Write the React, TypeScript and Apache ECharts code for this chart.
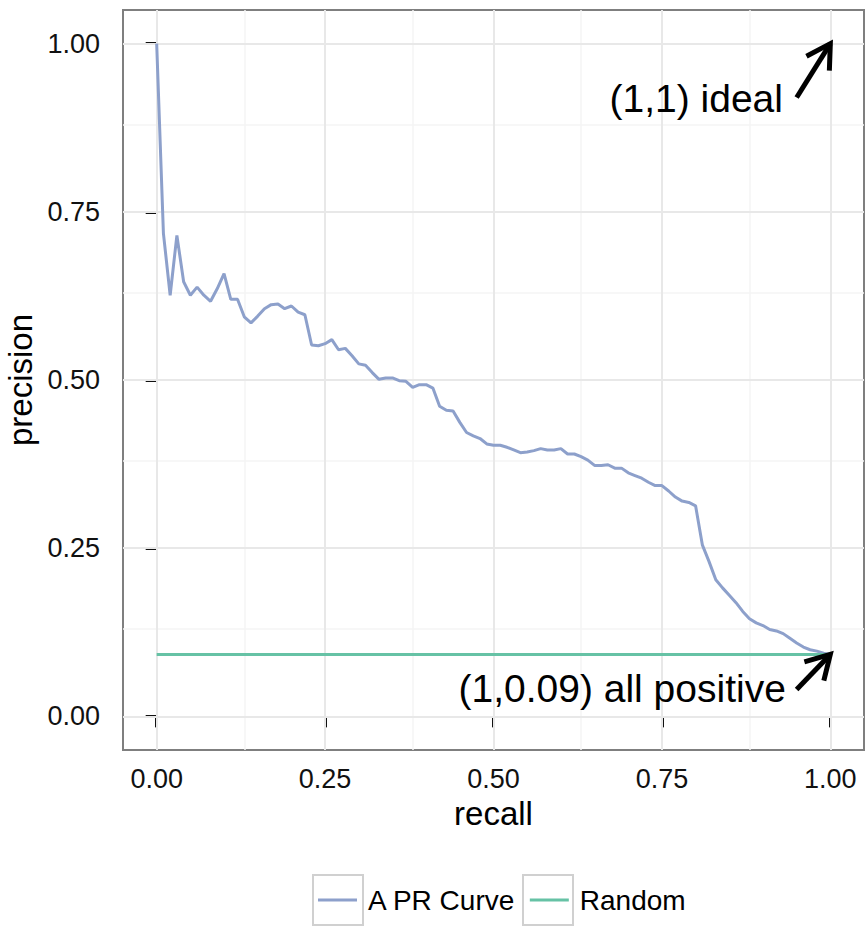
import React, { useEffect, useRef } from "react";
import * as echarts from "echarts";

const recall = [
  0.0, 0.01, 0.02, 0.03, 0.04, 0.05, 0.06, 0.07, 0.08, 0.09,
  0.1, 0.11, 0.12, 0.13, 0.14, 0.15, 0.16, 0.17, 0.18, 0.19,
  0.2, 0.21, 0.22, 0.23, 0.24, 0.25, 0.26, 0.27, 0.28, 0.29,
  0.3, 0.31, 0.32, 0.33, 0.34, 0.35, 0.36, 0.37, 0.38, 0.39,
  0.4, 0.41, 0.42, 0.43, 0.44, 0.45, 0.46, 0.47, 0.48, 0.49,
  0.5, 0.51, 0.52, 0.53, 0.54, 0.55, 0.56, 0.57, 0.58, 0.59,
  0.6, 0.61, 0.62, 0.63, 0.64, 0.65, 0.66, 0.67, 0.68, 0.69,
  0.7, 0.71, 0.72, 0.73, 0.74, 0.75, 0.76, 0.77, 0.78, 0.79,
  0.8, 0.81, 0.82, 0.83, 0.84, 0.85, 0.86, 0.87, 0.88, 0.89,
  0.9, 0.91, 0.92, 0.93, 0.94, 0.95, 0.96, 0.97, 0.98, 0.99, 1.0,
];

const precision = [
  1.0, 0.718, 0.626, 0.715, 0.646, 0.626, 0.638, 0.626, 0.617, 0.636,
  0.658, 0.62, 0.62, 0.594, 0.585, 0.595, 0.606, 0.612, 0.613, 0.606,
  0.61, 0.601, 0.597, 0.552, 0.551, 0.554, 0.56, 0.545, 0.547, 0.536,
  0.524, 0.522, 0.511, 0.501, 0.503, 0.503, 0.499, 0.498, 0.489, 0.493,
  0.493, 0.488, 0.461, 0.455, 0.454, 0.437, 0.422, 0.417, 0.413, 0.405,
  0.403, 0.403, 0.4, 0.396, 0.392, 0.393, 0.395, 0.398, 0.396, 0.396,
  0.398, 0.39, 0.39, 0.386, 0.381, 0.373, 0.373, 0.374, 0.369, 0.369,
  0.362, 0.358, 0.354, 0.348, 0.343, 0.343, 0.335, 0.326, 0.32, 0.318,
  0.313, 0.255, 0.23, 0.203, 0.191, 0.18, 0.169, 0.156, 0.145, 0.139,
  0.135, 0.129, 0.127, 0.123, 0.116, 0.109, 0.103, 0.099, 0.097, 0.094, 0.092,
];

const randomRecall = [0, 1];
const randomPrecision = [0.092, 0.092];

const tickValues = [0, 0.25, 0.5, 0.75, 1];
const minorValues = [0.125, 0.375, 0.625, 0.875];

const seriesNames = ["A PR Curve", "Random"];

// arrows: [x0, y0, x1, y1]
const arrowSegments = [
  [0.95, 0.92, 1, 1],
  [0.95, 0.04, 1, 0.092],
];

const annotationLabels = ["(1,1) ideal", "(1,0.09) all positive"];
const annotationPos = [
  [0.801, 0.918],
  [0.691, 0.041],
];

const FONT = "'Liberation Sans', Arial, Helvetica, sans-serif";

export default function App() {
  const ref = useRef<HTMLDivElement>(null);

  useEffect(() => {
    if (!ref.current) return;
    const chart = echarts.init(ref.current, undefined, { renderer: "svg" });

    const gridLines: any[] = [];
    minorValues.forEach((v) => {
      gridLines.push({ xAxis: v, lineStyle: { color: "#f5f5f5", width: 1.5, type: "solid" } });
      gridLines.push({ yAxis: v, lineStyle: { color: "#f5f5f5", width: 1.5, type: "solid" } });
    });
    tickValues.forEach((v) => {
      gridLines.push({ xAxis: v, lineStyle: { color: "#e8e8e8", width: 2, type: "solid" } });
      gridLines.push({ yAxis: v, lineStyle: { color: "#e8e8e8", width: 2, type: "solid" } });
    });

    const axisCommon = {
      type: "value",
      min: -0.05,
      max: 1.05,
      splitLine: { show: false },
      axisLine: { show: false },
      axisTick: {
        show: true,
        customValues: tickValues,
        length: 11,
        lineStyle: { color: "#111", width: 3 },
      },
      nameLocation: "middle",
      nameTextStyle: { fontSize: 33, color: "#000", fontFamily: FONT },
    };

    const option: any = {
      animation: false,
      backgroundColor: "#fff",
      textStyle: { fontFamily: FONT },
      grid: {
        left: 123,
        top: 10,
        width: 741,
        height: 740,
        show: true,
        borderColor: "#7f7f7f",
        borderWidth: 2,
        backgroundColor: "#fff",
        containLabel: false,
        outerBoundsMode: "none",
      },
      xAxis: {
        ...axisCommon,
        name: "recall",
        nameGap: 46,
        axisLabel: {
          customValues: tickValues,
          formatter: (v: number) => v.toFixed(2),
          fontSize: 27,
          color: "#111",
          margin: 15,
          fontFamily: FONT,
        },
      },
      yAxis: {
        ...axisCommon,
        name: "precision",
        nameGap: 80,
        axisLabel: {
          customValues: tickValues,
          formatter: (v: number) => v.toFixed(2),
          fontSize: 27,
          color: "#111",
          margin: 23,
          fontFamily: FONT,
        },
      },
      legend: {
        data: seriesNames,
        left: 313,
        top: 881,
        orient: "horizontal",
        icon: "rect",
        itemWidth: 39,
        itemHeight: 3,
        itemGap: 14,
        textStyle: { fontSize: 28, color: "#000", fontFamily: FONT, padding: [0, 0, 0, 6] },
        selectedMode: false,
      },
      graphic: [
        {
          type: "rect",
          shape: { x: 313, y: 875, width: 50, height: 50 },
          style: { fill: "none", stroke: "#d0d0d0", lineWidth: 2 },
          z: -1,
        },
        {
          type: "rect",
          shape: { x: 523, y: 875, width: 50, height: 50 },
          style: { fill: "none", stroke: "#d0d0d0", lineWidth: 2 },
          z: -1,
        },
      ],
      series: [
        {
          name: "gridlines",
          type: "line",
          data: [],
          z: 1,
          silent: true,
          markLine: {
            silent: true,
            z: 1,
            symbol: ["none", "none"],
            label: { show: false },
            data: gridLines,
          },
        },
        {
          name: seriesNames[0],
          type: "line",
          data: recall.map((r, i) => [r, precision[i]]),
          showSymbol: false,
          symbol: "none",
          lineStyle: { color: "#8da0cb", width: 3 },
          itemStyle: { color: "#8da0cb" },
          z: 3,
        },
        {
          name: seriesNames[1],
          type: "line",
          data: randomRecall.map((r, i) => [r, randomPrecision[i]]),
          showSymbol: false,
          symbol: "none",
          lineStyle: { color: "#66c2a5", width: 3 },
          itemStyle: { color: "#66c2a5" },
          z: 3,
        },
        {
          name: "arrows",
          type: "custom",
          silent: true,
          z: 5,
          encode: { x: [0, 2], y: [1, 3] },
          data: arrowSegments,
          renderItem: (params: any, api: any) => {
            const p0 = api.coord([api.value(0), api.value(1)]);
            const p1 = api.coord([api.value(2), api.value(3)]);
            const ang = Math.atan2(p1[1] - p0[1], p1[0] - p0[0]);
            const L = 27;
            const a = Math.PI / 6;
            const w1 = [p1[0] - L * Math.cos(ang - a), p1[1] - L * Math.sin(ang - a)];
            const w2 = [p1[0] - L * Math.cos(ang + a), p1[1] - L * Math.sin(ang + a)];
            return {
              type: "group",
              children: [
                {
                  type: "line",
                  shape: { x1: p0[0], y1: p0[1], x2: p1[0], y2: p1[1] },
                  style: { stroke: "#000", lineWidth: 5, lineCap: "butt" },
                },
                {
                  type: "polyline",
                  shape: { points: [w1, p1, w2] },
                  style: { stroke: "#000", fill: null, lineWidth: 5, lineJoin: "miter", lineCap: "butt" },
                },
              ],
            };
          },
        },
        {
          name: "annotations",
          type: "custom",
          silent: true,
          z: 5,
          encode: { x: 0, y: 1 },
          data: annotationPos,
          renderItem: (params: any, api: any) => {
            const p = api.coord([api.value(0), api.value(1)]);
            return {
              type: "text",
              x: p[0],
              y: p[1],
              style: {
                text: annotationLabels[params.dataIndex],
                fill: "#000",
                fontSize: 39,
                fontFamily: FONT,
                align: "center",
                verticalAlign: "middle",
              },
            };
          },
        },
      ],
    };

    chart.setOption(option);
    return () => chart.dispose();
  }, []);

  return (
    <div
      ref={ref}
      style={{ position: "absolute", left: 0, top: 0, width: 865, height: 926 }}
    />
  );
}
